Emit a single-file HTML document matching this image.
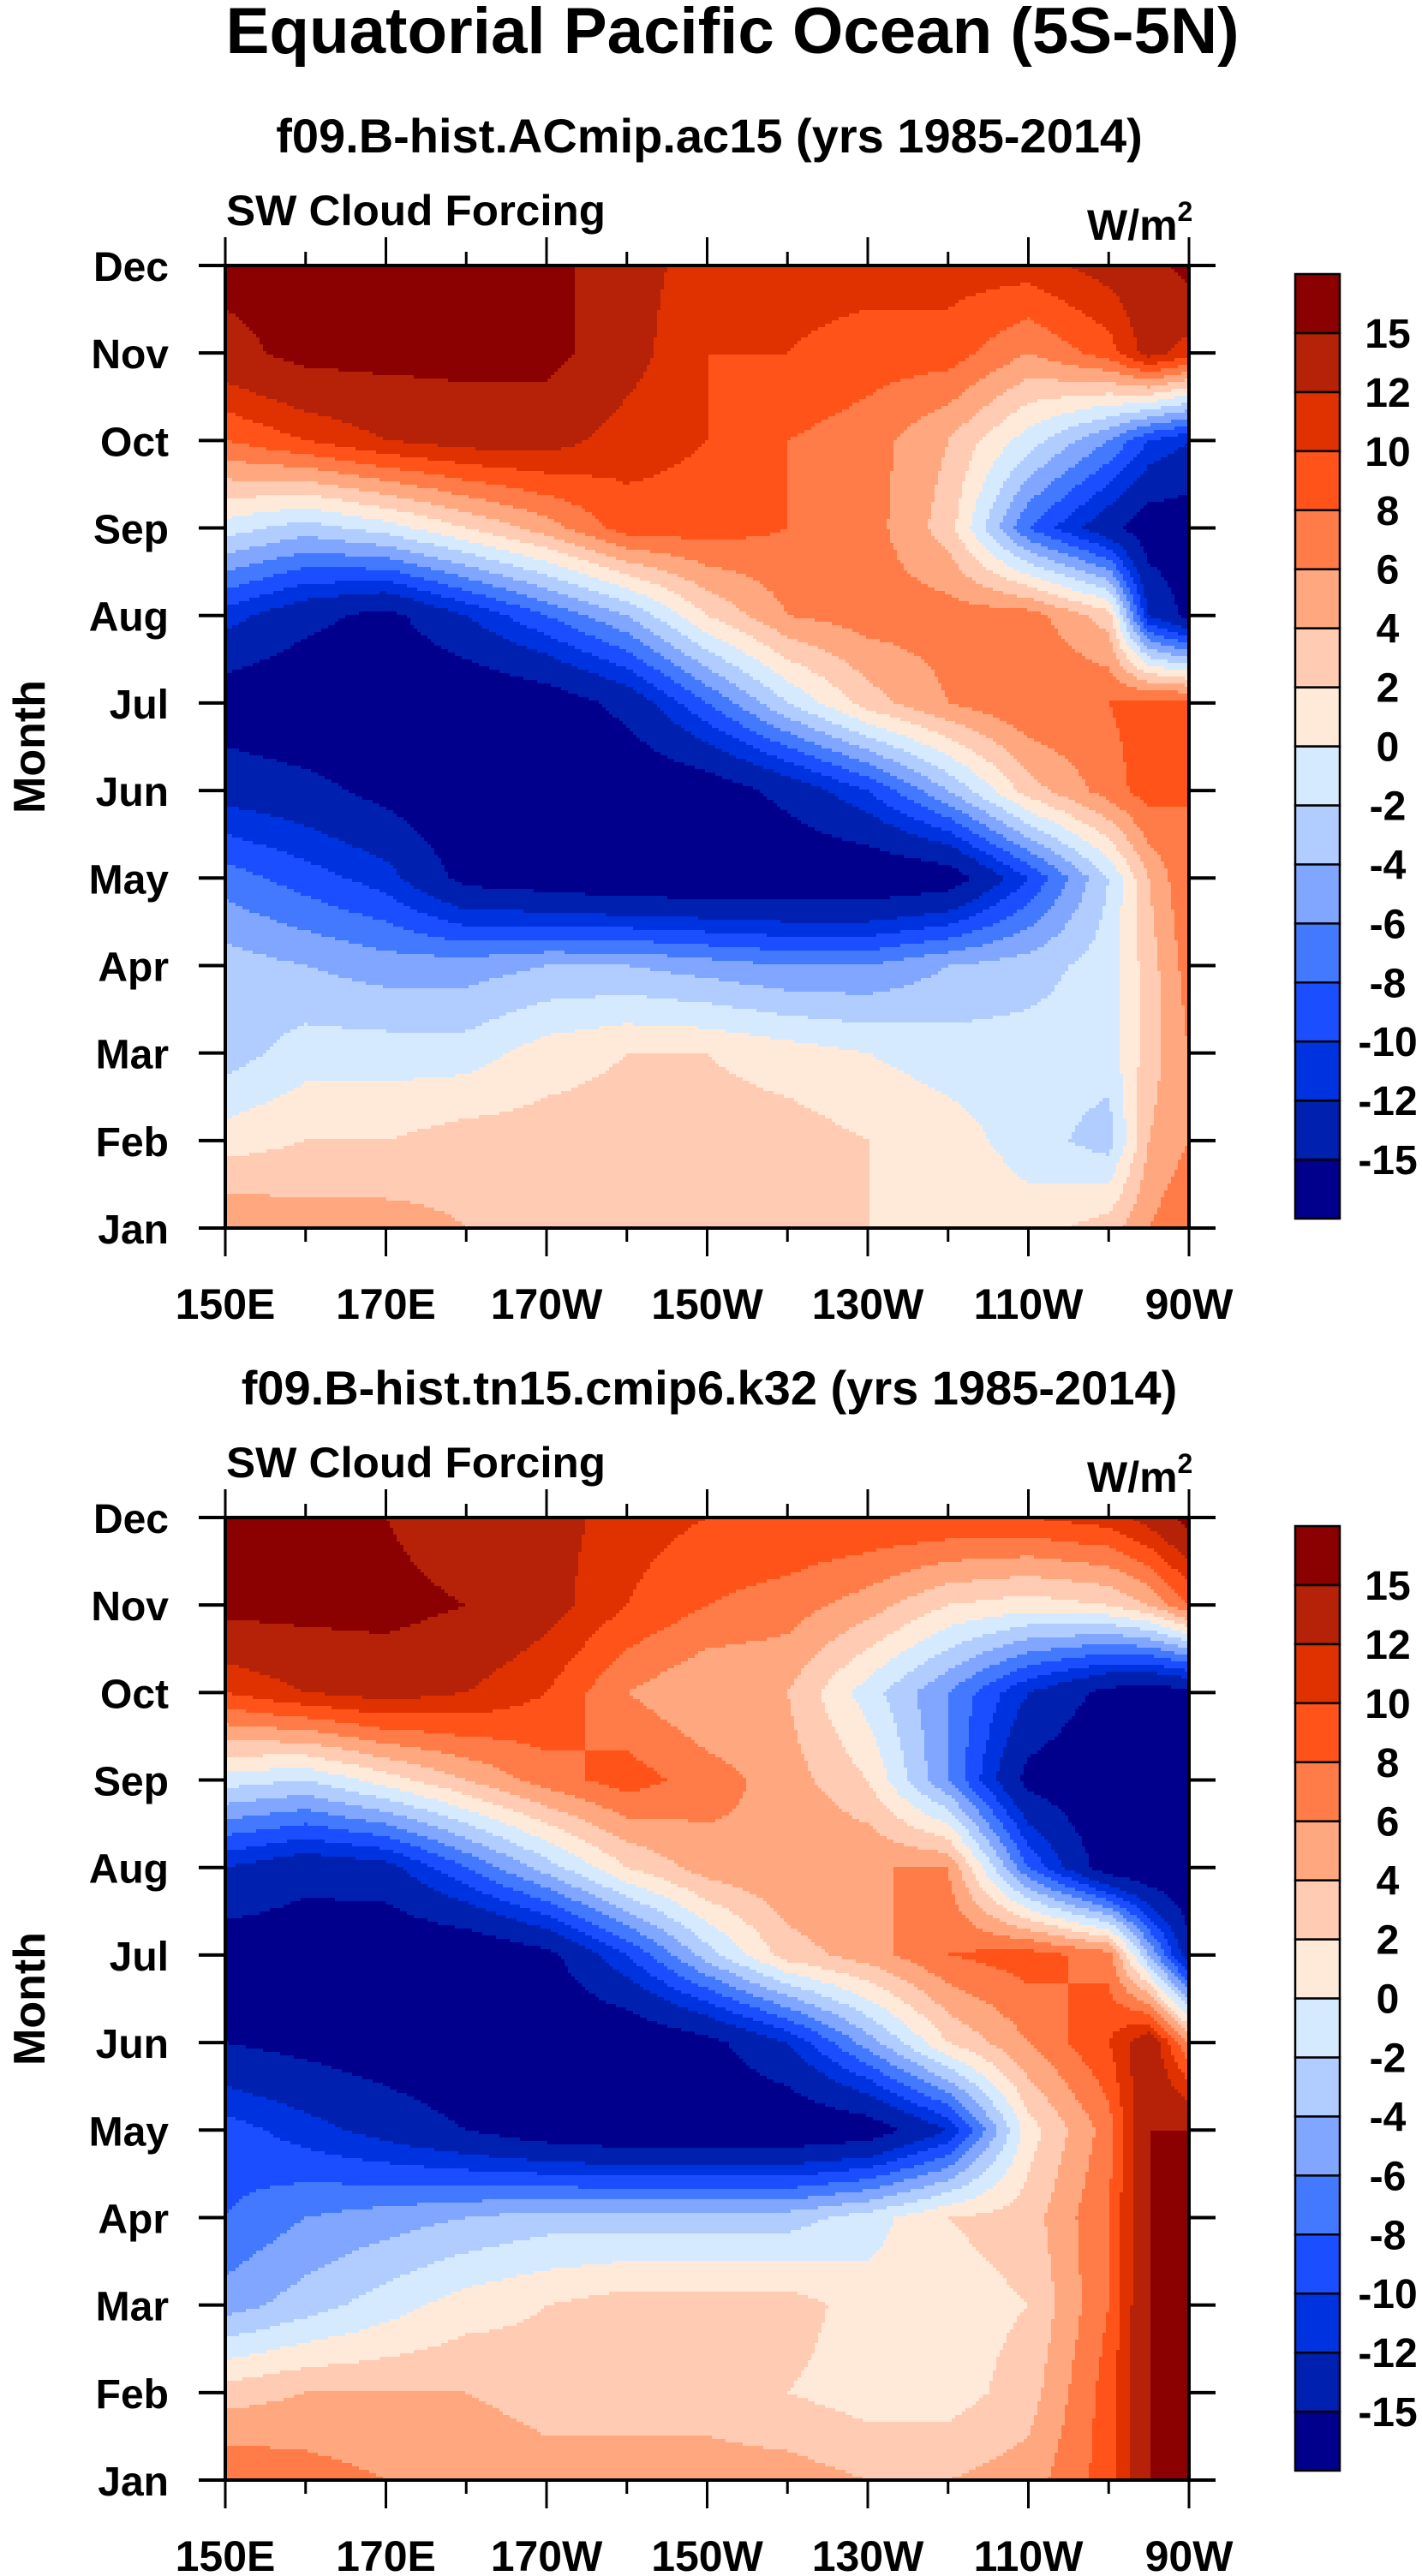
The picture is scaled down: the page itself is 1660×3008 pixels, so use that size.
<!DOCTYPE html>
<html><head><meta charset="utf-8"><style>
html,body{margin:0;padding:0;background:#fff;}
svg{display:block;font-family:"Liberation Sans",Arial,sans-serif;font-weight:bold;}
</style></head><body>
<svg id="fig" width="1660" height="3008" viewBox="0 0 1660 3008" xmlns="http://www.w3.org/2000/svg">
<text x="855" y="62" font-size="76" text-anchor="middle" textLength="1183" lengthAdjust="spacingAndGlyphs">Equatorial Pacific Ocean (5S-5N)</text>
<g id="p1"></g>
<g id="p2"></g>
</svg>
<script>
const months = ["Jan","Feb","Mar","Apr","May","Jun","Jul","Aug","Sep","Oct","Nov","Dec"];
const lons = [150,160,170,180,190,200,210,220,230,240,250,260,265,270];
const lonTickLabels = ["150E","170E","170W","150W","130W","110W","90W"];
const levels = [-15,-12,-10,-8,-6,-4,-2,0,2,4,6,8,10,12,15];
const levelColors = ["#00008c","#0020b0","#0033e0","#1a4eff","#4279ff","#80a6ff","#b1ccff","#d6eaff","#ffeada","#ffcbb3","#ffa880","#ff7b47","#ff5319","#e03200","#b52208","#8b0000"];
const panel1Title = "f09.B-hist.ACmip.ac15 (yrs 1985-2014)";
const panel2Title = "f09.B-hist.tn15.cmip6.k32 (yrs 1985-2014)";
// rows Jan..Dec, columns = lons
const panel1Values = [
 [6,5,5,4,4,4,3,3,2,2,1,3,6,8],
 [1,2,2,3,3,3,3,3,2,1,-1,-3,4,6],
 [-3,-1,-1,-1,1,2,2,1,0,-1,-1,-1,3,6],
 [-3,-4,-5,-5,-4,-4,-5,-6,-6,-4,-3,-1,3,7],
 [-7,-9,-11,-16,-17,-18,-18,-18,-18,-17,-10,-2,4,8],
 [-13,-14,-16,-18,-18,-18,-17,-14,-10,-4,3,7,9,8],
 [-17,-18,-18,-18,-17,-14,-8,-2,3,6,8,8,9,9],
 [-11,-14,-16,-12,-8,-4,2,6,7,7,7,3,-12,-16],
 [-1,-3,-1,2,5,9,9,8,7,3,-8,-14,-17,-17],
 [8,10,12,13,13,11,10,8,7,4,-1,-6,-10,-12],
 [14,16,16,16,16,13,10,10,9,9,6,9,13,11],
 [16,16,16,16,16,13,11,11,11,11,11,13,14,16]
];
const panel2Values = [
 [8,7,6,6,5,5,5,5,4,4,5,9,15,16],
 [3,4,4,4,3,3,3,2,1,1,3,9,15,16],
 [-5,-3,-1,1,2,3,3,3,1,1,2,8,15,16],
 [-8,-6,-5,-4,-3,-3,-3,-3,-1,2,3,8,15,15],
 [-9,-11,-13,-15,-17,-18,-18,-18,-17,-12,1,7,15,15],
 [-15,-16,-17,-18,-18,-18,-16,-12,-5,2,6,10,14,6],
 [-17,-17,-18,-18,-16,-10,-3,3,5,8,9,7,-4,-14],
 [-12,-14,-13,-8,-3,2,5,6,6,6,-8,-17,-18,-18],
 [-1,-2,1,4,7,9,7,5,2,-6,-16,-18,-18,-18],
 [10,12,13,12,10,6,4,4,-1,-6,-12,-16,-17,-16],
 [16,16,16,15,13,10,8,7,5,2,1,2,4,8],
 [16,16,15,13,13,11,10,10,10,10,10,11,13,16]
];

const NS="http://www.w3.org/2000/svg";
function mk(tag,attrs,parent,txt){const e=document.createElementNS(NS,tag);for(const k in attrs)e.setAttribute(k,attrs[k]);if(txt!==undefined)e.textContent=txt;parent.appendChild(e);return e;}
function colorIndex(v){let i=0;for(const l of levels){if(v>=l)i++;}return i;}

function drawPanel(g, vals, title, top){
  const X0=263,X1=1388,Y0=top,Y1=top+1124;
  const xS=l=>X0+(l-150)/120*(X1-X0);
  const yS=m=>Y1-m/11*(Y1-Y0);
  const t=mk('text',{x:828,y:top-132,'font-size':56,'text-anchor':'middle'},g,title);
  
  
  const l1=mk('text',{x:264,y:top-47,'font-size':50,textLength:443,lengthAdjust:'spacingAndGlyphs'},g,"SW Cloud Forcing");
  
  
  const u=mk('text',{x:1269,y:top-30,'font-size':50},g);
  
  
  mk('tspan',{},u,"W/m");mk('tspan',{dy:-22,'font-size':32},u,"2");
  const fg=mk('g',{'shape-rendering':'crispEdges'},g);
  
  
  const step=4;
  const val=(lon,m)=>{
    let i=0;while(i<lons.length-2&&lon>lons[i+1])i++;
    const tx=Math.min(1,Math.max(0,(lon-lons[i])/(lons[i+1]-lons[i])));
    let j=Math.min(10,Math.floor(m));const ty=m-j;
    const a=vals[j][i]*(1-tx)+vals[j][i+1]*tx;
    const b=vals[j+1][i]*(1-tx)+vals[j+1][i+1]*tx;
    return a*(1-ty)+b*ty;
  };
  for(let py=Y0;py<Y1;py+=step){
    const m=Math.max(0,Math.min(11,(Y1-(py+step/2))/(Y1-Y0)*11));
    let runStart=X0,runC=-1;
    for(let px=X0;px<X1;px+=step){
      const lon=Math.min(270,150+(px+step/2-X0)/(X1-X0)*120);
      const c=colorIndex(val(lon,m));
      if(c!==runC){
        if(runC>=0){mk('rect',{x:runStart,y:py,width:px-runStart,height:Math.min(step+1,Y1-py),fill:levelColors[runC]},fg);}
        runStart=px;runC=c;
      }
    }
    mk('rect',{x:runStart,y:py,width:X1-runStart,height:Math.min(step+1,Y1-py),fill:levelColors[runC]},fg);
  }
  const fr=mk('rect',{x:X0,y:Y0,width:X1-X0,height:Y1-Y0,fill:'none',stroke:'#000','stroke-width':4},g);
  
  
  for(let l=150;l<=270;l+=10){
    const major=(l-150)%20===0, len=major?33:16, x=xS(l);
    mk('line',{x1:x,x2:x,y1:Y0,y2:Y0-len,stroke:'#000','stroke-width':3},g);
    mk('line',{x1:x,x2:x,y1:Y1,y2:Y1+len,stroke:'#000','stroke-width':3},g);
  }
  lonTickLabels.forEach((lab,k)=>{
    const tl=mk('text',{x:xS(150+20*k),y:Y1+106,'font-size':50,'text-anchor':'middle'},g,lab);
    
    
  });
  months.forEach((mo,k)=>{
    const y=yS(k);
    mk('line',{x1:X0-31,x2:X0,y1:y,y2:y,stroke:'#000','stroke-width':4},g);
    mk('line',{x1:X1,x2:X1+31,y1:y,y2:y,stroke:'#000','stroke-width':4},g);
    const tl=mk('text',{x:197,y:y+18,'font-size':48,'text-anchor':'end'},g,mo);
    
    
  });
  const yt=mk('text',{x:0,y:0,'font-size':52,'text-anchor':'middle',transform:`translate(52,${(Y0+Y1)/2}) rotate(-90)`},g,"Month");
  
  
  const cb=mk('g',{},g);
  
  
  const cT=top+10,cB=top+1113,n=levelColors.length,h=(cB-cT)/n;
  for(let k=0;k<n;k++){
    const r=mk('rect',{x:1512,y:cT+(n-1-k)*h,width:52,height:h,fill:levelColors[k],stroke:'#000','stroke-width':2.5},cb);
    
    
  }
  levels.forEach((lv,k)=>{
    const tl=mk('text',{x:1620,y:cB-(k+1)*h+17,'font-size':48,'text-anchor':'middle'},cb,String(lv));
    
    
  });
}
drawPanel(document.getElementById('p1'),panel1Values,panel1Title,310);
drawPanel(document.getElementById('p2'),panel2Values,panel2Title,1772);
</script>
</body></html>
